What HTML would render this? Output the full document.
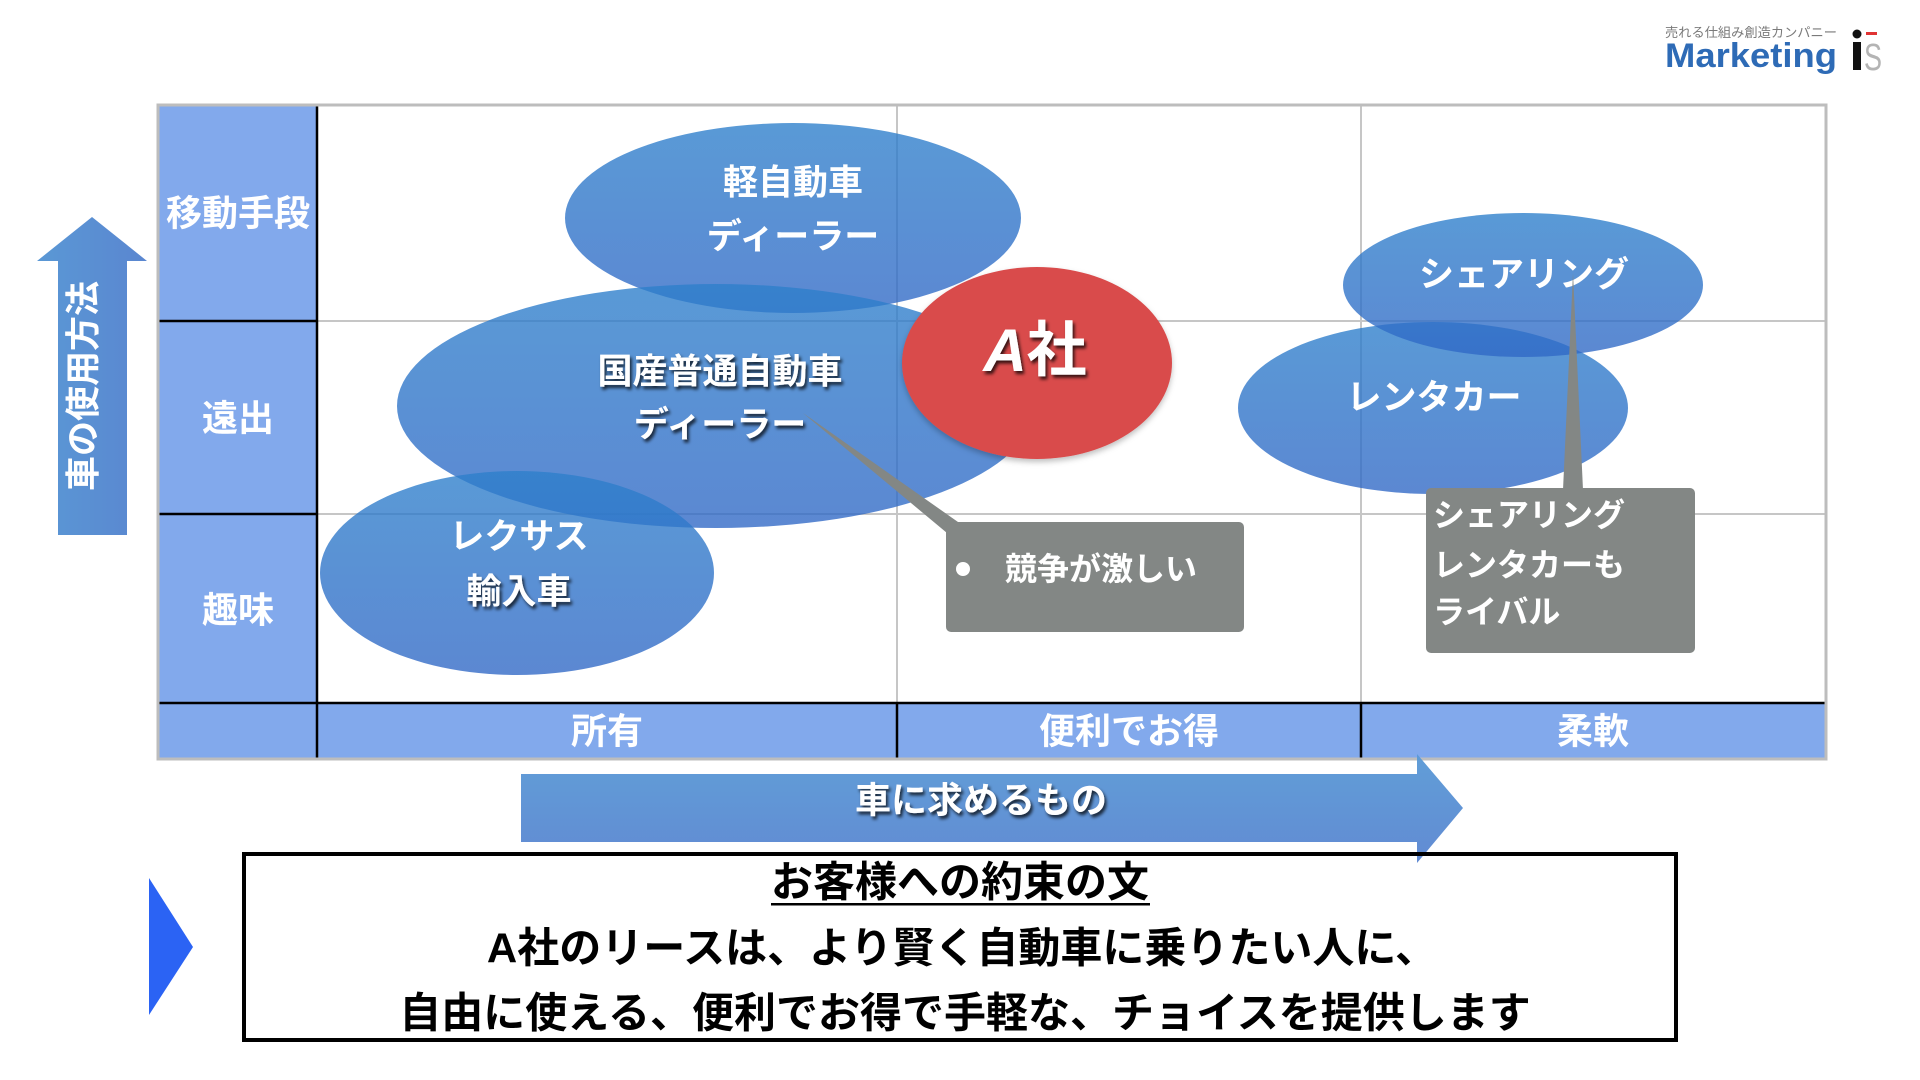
<!DOCTYPE html>
<html><head><meta charset="utf-8"><style>
html,body{margin:0;padding:0;background:#fff;}
svg{display:block;}
text{font-family:"Liberation Sans","Noto Sans CJK JP",sans-serif;font-weight:bold;}
</style></head><body>
<svg width="1920" height="1080" viewBox="0 0 1920 1080" xmlns="http://www.w3.org/2000/svg">
<defs>
<linearGradient id="eg" x1="0" y1="0" x2="0" y2="1">
<stop offset="0" stop-color="rgb(45,127,203)"/>
<stop offset="1" stop-color="rgb(48,104,198)"/>
</linearGradient>
<linearGradient id="ha" x1="0" y1="0" x2="0" y2="1">
<stop offset="0" stop-color="#5A9AD6"/>
<stop offset="1" stop-color="#5B86D1"/>
</linearGradient>
<linearGradient id="va" x1="0" y1="0" x2="1" y2="0">
<stop offset="0" stop-color="#5A98D5"/>
<stop offset="1" stop-color="#5A86D0"/>
</linearGradient>
<filter id="ts" x="-10%" y="-30%" width="130%" height="170%">
<feDropShadow dx="2" dy="3" stdDeviation="1.6" flood-color="#000" flood-opacity="0.75"/>
</filter>
<filter id="ss" x="-10%" y="-10%" width="120%" height="125%">
<feDropShadow dx="0" dy="3" stdDeviation="3" flood-color="#000" flood-opacity="0.25"/>
</filter>
</defs>

<!-- logo -->
<text x="1665" y="37" font-size="13" fill="#7a7a7a" textLength="172" lengthAdjust="spacingAndGlyphs" style="font-weight:normal">売れる仕組み創造カンパニー</text>
<text x="1665" y="67" font-size="34" fill="#2E6BB6" textLength="172" lengthAdjust="spacingAndGlyphs">Marketing</text>
<circle cx="1857" cy="34" r="4.5" fill="#111"/>
<rect x="1853" y="42" width="8" height="28" fill="#111"/>
<rect x="1866" y="32" width="11" height="3" fill="#e03434"/>
<text x="1864" y="70" font-size="38" fill="#b4b4b4" textLength="18" lengthAdjust="spacingAndGlyphs" style="font-weight:normal">S</text>

<!-- grid fills -->
<rect x="158" y="105" width="159" height="654" fill="#82A9EC"/>
<rect x="158" y="703" width="1668" height="56" fill="#82A9EC"/>
<!-- gray inner lines -->
<g stroke="#c6c6c6" stroke-width="2">
<line x1="317" y1="321" x2="1826" y2="321"/>
<line x1="317" y1="514" x2="1826" y2="514"/>
<line x1="897" y1="105" x2="897" y2="703"/>
<line x1="1361" y1="105" x2="1361" y2="703"/>
</g>
<!-- black lines -->
<g stroke="#000" stroke-width="2.5">
<line x1="317" y1="105" x2="317" y2="759"/>
<line x1="158" y1="321" x2="317" y2="321"/>
<line x1="158" y1="514" x2="317" y2="514"/>
<line x1="158" y1="703" x2="1826" y2="703"/>
<line x1="897" y1="703" x2="897" y2="759"/>
<line x1="1361" y1="703" x2="1361" y2="759"/>
</g>
<rect x="158" y="105" width="1668" height="654" fill="none" stroke="#bdbdbd" stroke-width="3"/>

<!-- left labels -->
<g font-size="36" fill="#fff" text-anchor="middle" dominant-baseline="central">
<text x="238" y="213">移動手段</text>
<text x="238" y="418">遠出</text>
<text x="238" y="610">趣味</text>
<text x="607" y="731">所有</text>
<text x="1129" y="731">便利でお得</text>
<text x="1593" y="731">柔軟</text>
</g>

<!-- vertical arrow -->
<polygon points="92,217 147,261 127,261 127,535 58,535 58,261 37,261" fill="url(#va)"/>
<text transform="translate(84,386) rotate(-90)" x="0" y="0" font-size="35" fill="#fff" text-anchor="middle" dominant-baseline="central">車の使用方法</text>

<!-- ellipses -->
<g opacity="0.79">
<ellipse cx="793" cy="218" rx="228" ry="95" fill="url(#eg)"/>
</g>
<g opacity="0.79">
<ellipse cx="716" cy="406" rx="319" ry="122" fill="url(#eg)"/>
</g>
<g opacity="0.79">
<ellipse cx="517" cy="573" rx="197" ry="102" fill="url(#eg)"/>
</g>
<g opacity="0.79">
<ellipse cx="1433" cy="408" rx="195" ry="86" fill="url(#eg)"/>
</g>
<g opacity="0.79">
<ellipse cx="1523" cy="285" rx="180" ry="72" fill="url(#eg)"/>
</g>

<!-- A社 -->
<ellipse cx="1037" cy="363" rx="135" ry="96" fill="#D94C4C" filter="url(#ss)"/>

<!-- ellipse texts -->
<g font-size="35" fill="#fff" text-anchor="middle" dominant-baseline="central">
<text x="793" y="183">軽自動車</text>
<text x="793" y="237">ディーラー</text>
<text x="720" y="372" filter="url(#ts)">国産普通自動車</text>
<text x="720" y="425" filter="url(#ts)">ディーラー</text>
<text x="519" y="537">レクサス</text>
<text x="519" y="592" filter="url(#ts)">輸入車</text>
<text x="1524" y="275">シェアリング</text>
<text x="1434" y="398">レンタカー</text>
</g>
<text x="1035" y="350" font-size="60" fill="#fff" text-anchor="middle" dominant-baseline="central" filter="url(#ts)"><tspan font-style="italic">A</tspan><tspan>社</tspan></text>

<!-- callout 1 -->
<polygon points="803,413 958,522 947,533" fill="#838785"/>
<rect x="946" y="522" width="298" height="110" rx="5" fill="#838785"/>
<circle cx="963" cy="569" r="7" fill="#fff"/>
<text x="1005" y="569" font-size="32" fill="#fff" dominant-baseline="central">競争が激しい</text>

<!-- callout 2 -->
<polygon points="1573,273 1583,490 1563,490" fill="#838785"/>
<rect x="1426" y="488" width="269" height="165" rx="5" fill="#838785"/>
<g font-size="32" fill="#fff" dominant-baseline="central">
<text x="1433" y="515">シェアリング</text>
<text x="1433" y="565">レンタカーも</text>
<text x="1433" y="612">ライバル</text>
</g>

<!-- horizontal arrow -->
<polygon points="521,774 1417,774 1417,754 1463,808 1417,863 1417,842 521,842" fill="url(#ha)" opacity="0.96"/>
<text x="981" y="800" font-size="36" fill="#fff" text-anchor="middle" dominant-baseline="central" filter="url(#ts)">車に求めるもの</text>

<!-- bottom box -->
<polygon points="149,878 193,947 149,1015" fill="#2B63F4"/>
<rect x="244" y="854" width="1432" height="186" fill="none" stroke="#000" stroke-width="4"/>
<g font-size="42" fill="#000" text-anchor="middle" dominant-baseline="central">
<text x="960" y="882">お客様への約束の文</text>
<text x="962" y="948">A社のリースは、より賢く自動車に乗りたい人に、</text>
<text x="965" y="1013">自由に使える、便利でお得で手軽な、チョイスを提供します</text>
</g>
<rect x="771" y="903" width="379" height="2.5" fill="#000"/>
</svg>
</body></html>
